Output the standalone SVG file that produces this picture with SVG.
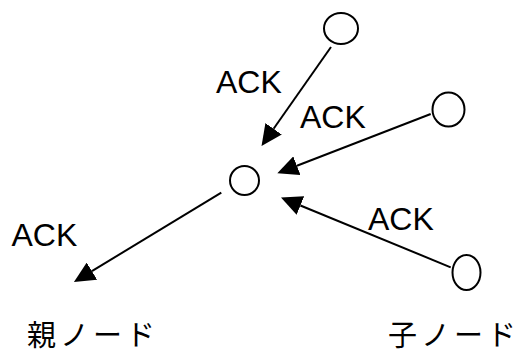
<svg xmlns="http://www.w3.org/2000/svg" width="520" height="354" viewBox="0 0 520 354">
  <style>
    .node { fill: #ffffff; stroke: #000000; stroke-width: 2; }
    .edge { stroke: #000000; stroke-width: 2; fill: none; marker-end: url(#arrow); }
    .lbl { font-family: "Liberation Sans", Arial, sans-serif; font-size: 32px; fill: #000000; }
    .jp { font-family: "Noto Sans CJK JP", "Noto Sans", sans-serif; font-size: 29px; fill: #000000; }
  </style>
  <defs>
    <marker id="arrow" viewBox="0 0 21 20" refX="0" refY="10" markerWidth="21" markerHeight="20" markerUnits="userSpaceOnUse" orient="auto">
      <path d="M0,0 L21,10 L0,20 Z" fill="#000000"/>
    </marker>
  </defs>
  <rect width="520" height="354" fill="#ffffff"/>
  <g id="connectors">
    <line class="edge" x1="331" y1="47" x2="273.6" y2="128.8"/>
    <line class="edge" x1="430.7" y1="114" x2="296.9" y2="165.7"/>
    <line class="edge" x1="450.7" y1="267.3" x2="300.4" y2="205.5"/>
    <line class="edge" x1="221.3" y1="192.7" x2="91.9" y2="271.1"/>
  </g>
  <g id="node-top"><ellipse class="node" cx="341" cy="28.5" rx="17" ry="15.5"/></g>
  <g id="node-right"><ellipse class="node" cx="448.5" cy="109.5" rx="16" ry="17"/></g>
  <g id="node-center"><ellipse class="node" cx="244.5" cy="180.5" rx="14.5" ry="14.5"/></g>
  <g id="node-child"><ellipse class="node" cx="466.5" cy="272.5" rx="14" ry="17.5"/></g>
  <g id="labels">
    <text class="lbl" x="216" y="92.5">ACK</text>
    <text class="lbl" x="300" y="128">ACK</text>
    <text class="lbl" x="368" y="230">ACK</text>
    <text class="lbl" x="11.5" y="245.5">ACK</text>
  </g>
  <g id="parent-label"><text class="jp" x="27" y="345.5" textLength="128" lengthAdjust="spacing">親ノード</text></g>
  <g id="child-label"><text class="jp" x="388" y="345.5" textLength="128" lengthAdjust="spacing">子ノード</text></g>
</svg>
